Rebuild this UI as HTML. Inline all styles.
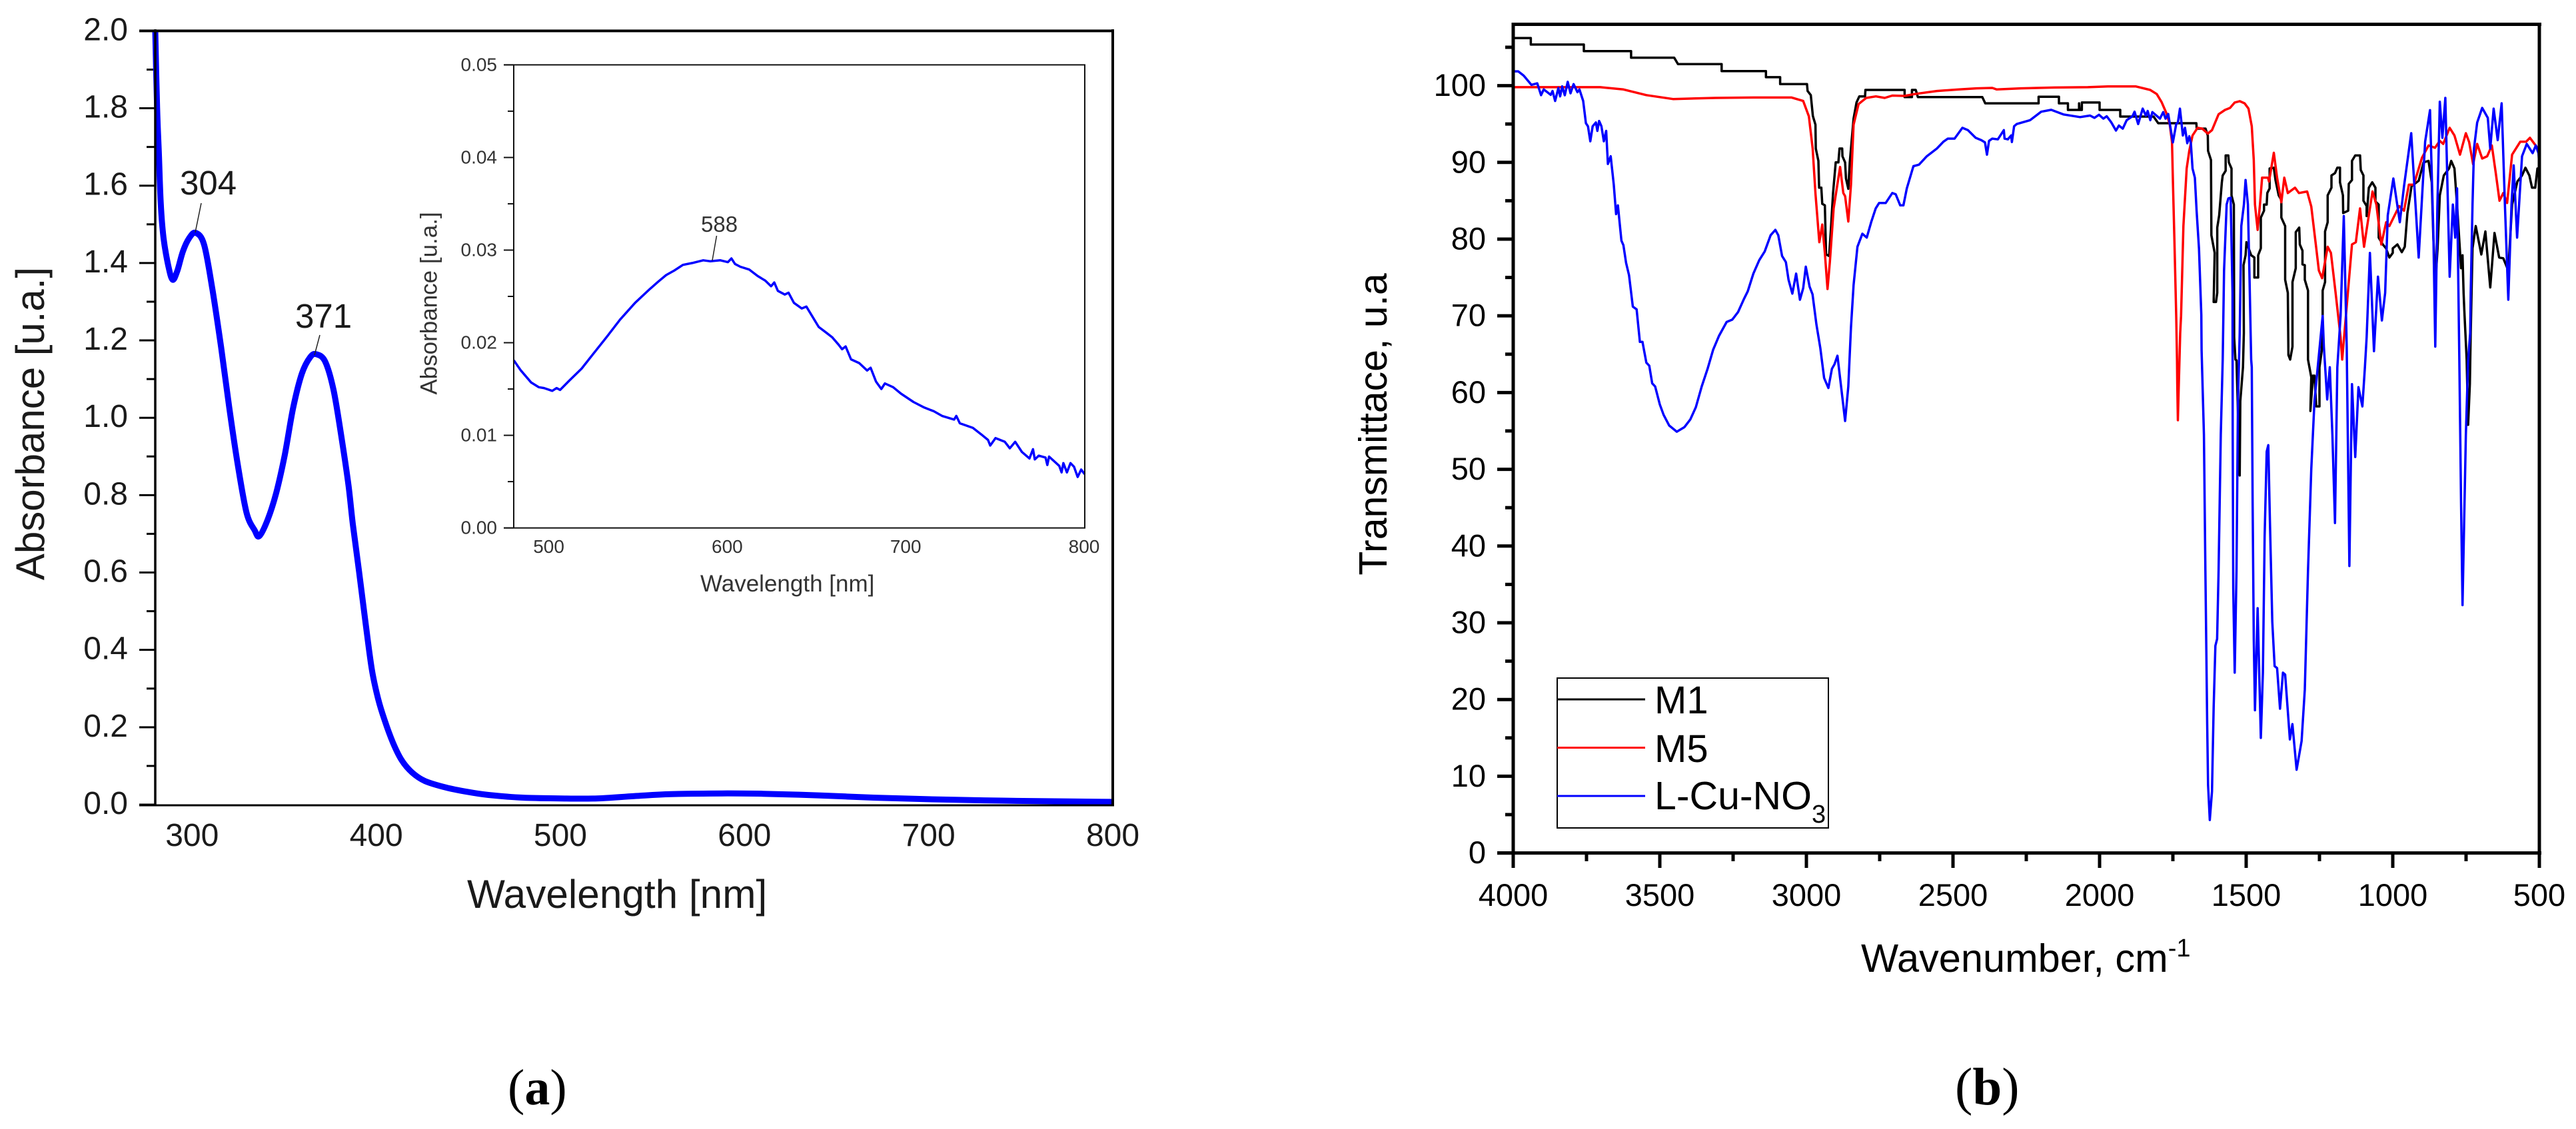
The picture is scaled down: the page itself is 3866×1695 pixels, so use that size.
<!DOCTYPE html>
<html lang="en">
<head>
<meta charset="utf-8">
<title>Absorbance and transmittance spectra</title>
<style>
html,body{margin:0;padding:0;background:#fff;width:3866px;height:1695px;overflow:hidden}
svg{display:block}
text{font-family:"Liberation Sans",Arial,sans-serif}
</style>
</head>
<body>
<svg id="figure" xmlns="http://www.w3.org/2000/svg" width="3866" height="1695" viewBox="0 0 3866 1695">
  <rect x="0" y="0" width="3866" height="1695" fill="#fff"/>
  <g id="panelA"></g>
  <g id="panelInset"></g>
  <g id="panelB"></g>

  <text x="701" y="1363" font-size="60.3" fill="#1a1a1a">Wavelength [nm]</text>
  <text transform="translate(66,636) rotate(-90)" text-anchor="middle" font-size="60" fill="#1a1a1a">Absorbance [u.a.]</text>
  <text x="270" y="292" font-size="51" fill="#1a1a1a">304</text>
  <line x1="302" y1="305" x2="293" y2="349" stroke="#222" stroke-width="1.5"/>
  <text x="443" y="492" font-size="51" fill="#1a1a1a">371</text>
  <line x1="480" y1="503" x2="472" y2="533" stroke="#222" stroke-width="1.5"/>

  <text x="1051" y="888" font-size="35" fill="#333">Wavelength [nm]</text>
  <text transform="translate(655.5,455.5) rotate(-90)" text-anchor="middle" font-size="35" fill="#333">Absorbance [u.a.]</text>
  <text x="1052" y="348" font-size="33" fill="#333">588</text>
  <line x1="1075.5" y1="354" x2="1069" y2="391" stroke="#222" stroke-width="1.5"/>

  <text x="2793" y="1459" font-size="59.5" fill="#000">Wavenumber, cm<tspan font-size="38" dy="-23">-1</tspan></text>
  <text transform="translate(2081,637) rotate(-90)" text-anchor="middle" font-size="59" fill="#000">Transmittace, u.a</text>

  <g>
    <rect x="2337" y="1018" width="407" height="225" fill="#fff" stroke="#000" stroke-width="2"/>
    <line x1="2337" y1="1050" x2="2469" y2="1050" stroke="#000" stroke-width="3"/>
    <text x="2483" y="1071" font-size="58" fill="#000">M1</text>
    <line x1="2337" y1="1122.5" x2="2469" y2="1122.5" stroke="#f00" stroke-width="3"/>
    <text x="2483" y="1144" font-size="58" fill="#000">M5</text>
    <line x1="2337" y1="1195" x2="2469" y2="1195" stroke="#00f" stroke-width="3"/>
    <text x="2483" y="1215" font-size="59" fill="#000">L-Cu-NO<tspan font-size="38" dy="20">3</tspan></text>
  </g>

  <text x="762" y="1658" style='font-family:"Liberation Serif",serif' font-size="76" fill="#000">(<tspan font-weight="bold">a</tspan>)</text>
  <text x="2934" y="1658" style='font-family:"Liberation Serif",serif' font-size="79" fill="#000">(<tspan font-weight="bold">b</tspan>)</text>
</svg>

<script>
/* ---------- Panel (a): main absorbance spectrum: [wavelength nm, absorbance] ---------- */
const absorbanceTickLabels = ["0.0","0.2","0.4","0.6","0.8","1.0","1.2","1.4","1.6","1.8","2.0"];
const absorbanceTickValues = [0,0.2,0.4,0.6,0.8,1.0,1.2,1.4,1.6,1.8,2.0];
const absorbanceMinorTicks = [0.1,0.3,0.5,0.7,0.9,1.1,1.3,1.5,1.7,1.9];
const wavelengthTickValues = [300,400,500,600,700,800];
const absorbanceSpectrum = [
[280,2.0],[281,1.8],[282,1.68],[283,1.553],[284.5,1.465],[287,1.395],[289.4,1.357],[292,1.38],[295,1.43],[298.5,1.465],[302,1.478],
[306.5,1.448],[311,1.333],[315.7,1.184],[320.2,1.026],[324.9,0.876],[329.6,0.754],[334,0.709],[336.5,0.694],[341,0.736],[345.7,0.806],
[350.3,0.903],[354.9,1.026],[359.6,1.114],[364.2,1.157],[367.6,1.164],[372.3,1.145],[376.9,1.07],[381.5,0.938],[385,0.823],[387.3,0.725],
[390.7,0.602],[394.2,0.47],[397.6,0.35],[401,0.274],[404.5,0.219],[409.2,0.159],[413.8,0.115],[419.5,0.083],[426.5,0.061],[438,0.044],
[449.5,0.033],[461,0.025],[479.5,0.018],[500,0.016],[520,0.016],[540,0.022],[560,0.027],[588,0.029],[610,0.028],[640,0.024],[670,0.018],
[700,0.014],[730,0.011],[760,0.009],[800,0.007]
];

/* ---------- Panel (a) inset: [wavelength nm, absorbance] ---------- */
const insetTickLabels = ["0.00","0.01","0.02","0.03","0.04","0.05"];
const insetTickValues = [0,0.01,0.02,0.03,0.04,0.05];
const insetMinorTicks = [0.005,0.015,0.025,0.035,0.045];
const insetWavelengthTicks = [500,600,700,800];
const insetSpectrum = [
[480,0.0181],[484,0.0170],[489.8,0.0157],[494,0.0152],[497,0.0151],[501.6,0.0148],[504,0.0151],[506,0.0149],[511.1,0.0159],[518,0.0172],
[525.4,0.019],[532,0.0206],[539.6,0.0225],[548,0.0243],[556.3,0.0258],[561,0.0266],[565.4,0.0273],[570,0.0278],[574.8,0.0284],[580,0.0286],
[586.2,0.0289],[590,0.0288],[595.8,0.0289],[600,0.0287],[602,0.0291],[604,0.0285],[607,0.0282],[612,0.0279],[616.7,0.0272],[621,0.0267],
[624.2,0.0261],[626,0.0265],[628,0.0256],[631.9,0.0252],[634,0.0254],[637,0.0243],[641.4,0.0237],[644,0.0239],[650.9,0.0217],[655,0.0211],
[658.4,0.0206],[662,0.0198],[664,0.0193],[666,0.0196],[669,0.0182],[673.6,0.0178],[678,0.0170],[680,0.0173],[683,0.0158],[686,0.0150],
[688,0.0156],[692.6,0.0152],[697,0.0145],[704,0.0136],[710,0.0130],[715.4,0.0126],[720,0.0121],[726.8,0.0117],[728,0.0121],[730,0.0113],
[737.3,0.0108],[742,0.0101],[745.8,0.0095],[747,0.0089],[750,0.0097],[755.2,0.0093],[758,0.0086],[761,0.0093],[764.8,0.0082],[769,0.0075],
[771,0.0085],[772,0.0074],[774.2,0.0078],[778,0.0076],[779,0.0068],[780,0.0077],[785.7,0.0067],[787,0.0060],[788,0.0070],[790,0.0060],
[792,0.0070],[794,0.0066],[796,0.0055],[798,0.0063],[800,0.0058]
];

/* ---------- Panel (b): [wavenumber cm-1, transmittance] ---------- */
const transmittanceTickValues = [0,10,20,30,40,50,60,70,80,90,100];
const transmittanceMinorTicks = [5,15,25,35,45,55,65,75,85,95,105];
const wavenumberTickValues = [4000,3500,3000,2500,2000,1500,1000,500];
const wavenumberMinorTicks = [3750,3250,2750,2250,1750,1250,750];

const m1Spectrum = [
[4000,106.2],[3940,106.2],[3940,105.35],[3759,105.35],[3759,104.5],[3598,104.5],[3598,103.64],[3451,103.64],[3438,102.8],[3289,102.8],[3289,101.9],[3138,101.9],
[3138,101.1],[3089.5,101.1],[3089.5,100.2],[2998,100.2],[2996,99.3],[2985,98.76],[2978,96.05],[2969,94.9],[2968,91.8],[2959,90.2],[2956.5,86.7],[2949,86.7],[2946,84.6],[2937,84.4],
[2933,78],[2922.5,77.8],[2917,80.9],[2909,86],[2900,90],[2891,90],[2887,91.8],[2878,91.8],[2877,90.8],[2868,90],[2865,87.9],[2857,86.55],[2852,90],[2839,95.7],[2829,97.8],[2819.5,98.6],
[2800,98.6],[2798.6,99.44],[2665,99.44],[2665,98.5],[2640,98.5],[2640,99.44],[2627,99.44],[2619.7,98.5],[2400,98.5],[2390,97.7],[2208,97.7],[2208,98.55],[2138.6,98.55],[2138.6,97.7],
[2108,97.7],[2108,96.84],[2070,96.84],[2070,97.7],[2068,96.84],[2060.5,96.84],[2060.5,97.8],[2000,97.8],[2000,96.84],[1929.5,96.84],[1929.5,95.97],[1816,95.97],[1800,95.1],[1670,95.1],
[1668.7,94.4],[1638.7,94.4],[1631,93.5],[1630,91.5],[1620,90.3],[1618.7,80.5],[1607.6,78.2],[1611,71.8],[1603,71.8],[1598.7,73],[1598.7,81.5],[1592,83.1],[1583,87.4],[1580,88.3],[1570,88.9],
[1570,90.9],[1561,90.9],[1559,90],[1550,89.2],[1550,85.7],[1542,84.5],[1541,67.2],[1536.6,64.3],[1533,64.2],[1522,49.2],[1520,58.9],[1511,63.3],[1508,67.76],[1509,76.6],[1502,77.9],[1499,79.6],
[1483,77.9],[1472,77.6],[1472,75],[1459,75],[1459,77.9],[1450,78.8],[1450,82.8],[1439,83.7],[1439,84.5],[1430,84.5],[1428,86],[1420,86.6],[1420,89.2],[1405.6,89.3],[1400,87.7],[1389,85.7],
[1380,85.1],[1380,82.8],[1367,81.7],[1367,74.7],[1358,73],[1356,64.9],[1350,64.3],[1342,66],[1342,74.4],[1331,76.2],[1331,80.9],[1319,81.5],[1317,79.3],[1308,78.5],[1308,76.7],[1300,76.6],
[1300,74.7],[1289,73.3],[1289,64.3],[1278,62],[1281,57.6],[1272,62.2],[1267,62.2],[1261,58.2],[1250,58.2],[1250,63.3],[1242,65.5],[1239,67.76],[1239,73.3],[1231,74.4],[1231,81],[1222,82.2],
[1222,85.7],[1209,86.7],[1209,88.3],[1197,88.6],[1189,89.3],[1180,89.3],[1180,87.4],[1170,85.7],[1169,83.4],[1152,83.7],[1150,87.2],[1139,87.7],[1139,90.2],[1128,90.9],[1111.5,90.9],[1109,89],
[1100,88.3],[1100,85],[1089,84.3],[1089,83],[1081.5,86.7],[1070,87.4],[1059,86.7],[1059,84.9],[1048,84.5],[1048,80.2],[1034,79.3],[1023,78.8],[1011.5,77.6],[1000,78.2],[1000,78.8],[984,79.3],
[969,78.3],[959,79],[950,83.4],[936,86.9],[911.6,87.6],[895,90],[878,90.2],[867,87.4],[861.6,80.2],[854,74.7],[847,78.8],[839.5,85.7],[826,88.3],[808,89.2],[800.6,90.2],[789.5,89.2],[778.4,83.1],
[767,76.2],[762,77.9],[758.5,73],[756,70.7],[748,64.3],[743,55.8],[737,61.1],[734,67.76],[728,78.8],[717,81.7],[698,78],[684,81],[667.5,73.7],[653,80.8],[637,77.6],[623,77.5],[606,75.9],[593,84.5],
[575,87.5],[559,88.3],[547.6,89.3],[534,88.3],[525,86.7],[514,86.7],[506.5,89.2],[500,89.2]
];

const m5Spectrum = [
[4000,99.8],[3703,99.8],[3624,99.5],[3546,98.76],[3455,98.25],[3311,98.4],[3181,98.45],[3050.5,98.45],[3011,98],[2991.6,96],[2978.6,91.8],[2969,85.95],[2956,79.6],[2946,81.9],[2937,78.2],[2928,73.5],
[2920,77],[2907,84],[2885,89.4],[2874,86],[2868,85.6],[2857,82.3],[2848,87.1],[2839,94.9],[2822,97.6],[2796,98.4],[2763,98.6],[2733,98.4],[2707,98.7],[2665,98.66],[2631,98.9],[2555,99.3],[2479.5,99.5],
[2419,99.65],[2366,99.7],[2350.7,99.5],[2267.4,99.65],[2153.7,99.75],[2040,99.8],[1972,99.9],[1877,99.9],[1827.4,99.44],[1805,98.9],[1788.5,97.85],[1772,96.4],[1761,95],[1753,92.65],[1749.7,87.4],
[1744,78.8],[1738.6,70],[1736,64.3],[1735,61.1],[1733,56.4],[1729.7,61.1],[1725,67.76],[1722,70],[1714,81.7],[1703,89.2],[1694,91.5],[1683,93.5],[1666,94.5],[1650,94.4],[1631,93.75],[1616.5,94.2],
[1594,96.26],[1572,96.84],[1555,97.1],[1539,97.8],[1522,97.97],[1505.5,97.7],[1492,97],[1481,94.7],[1474,90.3],[1470,84.5],[1461,81.2],[1453,84.5],[1445.6,88],[1425.6,88],[1422,87.5],[1405.6,91.25],
[1394.5,88],[1380,84.8],[1370,88],[1358,86],[1333.5,86.7],[1320,86],[1292,86.2],[1278,84.25],[1261,78.8],[1252,75.9],[1241,74.9],[1222,79],[1211,78.2],[1195,73],[1178,67.2],[1172.5,64.3],[1150,74.4],
[1139,79.3],[1126,79.6],[1111.5,84],[1098,79],[1084,82.5],[1069,86.2],[1056,84.5],[1039,79.3],[1022.6,82.2],[1011.5,81.7],[978,84.3],[961.6,83.7],[945,87.1],[928,87.1],[900.5,90.6],[878,92.2],[856,91.9],
[839.5,92.8],[828,92.4],[806,94.5],[789.5,93.5],[770.7,91],[750.7,93.8],[739.6,92.65],[726,89.75],[712,92.4],[695,90.5],[678,90.8],[662,92.2],[648.6,88.6],[636,85],[623,86],[610,84.7],[593,91],[565,92.7],
[545,92.7],[532,93.2],[501,91.6]
];

const lCuNo3Spectrum = [
[4000,101.86],[3983,101.86],[3964,101.3],[3938,100.1],[3918,100.3],[3905,98.76],[3896,99.5],[3872,98.8],[3866,99.3],[3857,98],[3846,99.7],[3840,98.6],[3833,99.9],[3824,98.75],[3814,100.5],[3804.5,99],
[3794,100.2],[3781,99.15],[3774,99.5],[3761.4,98],[3752,95.1],[3745,94.7],[3737,92.75],[3729,94.7],[3718,95.2],[3713,94.1],[3707,95.4],[3699,94.7],[3691,92.75],[3683,94.1],[3677,89.8],[3667.5,90.8],
[3657,87.1],[3649,83.25],[3643,84.4],[3631,79.8],[3624,79.2],[3615,76.9],[3605,75.3],[3592,71.2],[3579,70.85],[3568,66.6],[3559,66.6],[3546,63.9],[3536,63.5],[3526,61.2],[3516,60.8],[3500,58.45],[3487,57.1],
[3468,55.7],[3442,54.9],[3416,55.5],[3396,56.5],[3377,58.1],[3357,60.8],[3337,63.1],[3318,65.6],[3298,67.4],[3272,69.2],[3253,69.5],[3233,70.5],[3213,72.2],[3200,73.2],[3181,75.5],[3161,77.25],[3142,78.4],
[3122,80.5],[3106,81.2],[3096,80.5],[3083,77.8],[3070,77],[3061,74.7],[3048,72.9],[3035,75.5],[3022,72.1],[3011,73.6],[3002,76.4],[2989,73.8],[2979,72.8],[2966,68.9],[2952.5,65.8],[2939.5,61.9],[2925,60.6],
[2913,63.1],[2904,63.7],[2894,64.8],[2883,61.2],[2868,56.3],[2857,60.8],[2848,68.5],[2839,74],[2826,79],[2809,80.7],[2794,80.2],[2779,82.2],[2763.6,84],[2752,84.7],[2729.5,84.7],[2707,86],[2695.4,85.85],
[2680,84.4],[2669,84.4],[2657.5,86.6],[2635,89.5],[2616,89.7],[2589.4,90.8],[2555,91.8],[2532.5,92.7],[2517.4,93.1],[2494.6,93.1],[2468,94.5],[2449,94.2],[2422.7,93.2],[2403.7,92.9],[2391,92.6],[2384,91],
[2377,92.8],[2366,93.1],[2347,93],[2326.5,94.2],[2324,93.1],[2313,93],[2301.5,93.5],[2299,92.65],[2291.6,94.7],[2282.5,95],[2237,95.5],[2199,96.6],[2165,96.85],[2123.4,96.25],[2066.6,95.9],[2032.5,96.1],
[2017.4,95.8],[2002,96.2],[1987,95.7],[1975.7,96],[1960.6,95.25],[1944,94.15],[1934,94.8],[1921,94.4],[1907.5,95.5],[1888,96],[1880.7,96.6],[1868.5,95],[1853,97],[1842,96.1],[1836,96.7],[1827,95.5],[1820,96.55],
[1794,95.7],[1783,96.55],[1775,95.7],[1766,96.3],[1750,92.6],[1738.6,95],[1733,95.2],[1726,97],[1716,93.5],[1708.6,94.5],[1701,92.5],[1694,93.4],[1688.6,92.5],[1683,89.2],[1675,88],[1669,83.7],[1661,78.75],
[1653,70.1],[1652,65.5],[1644,54.5],[1639,36.8],[1633,16.8],[1630,8.9],[1624,4.3],[1616.5,8],[1611,19],[1605,27],[1599,27.9],[1594,36.8],[1586.5,54.5],[1580,64.3],[1575.4,75.9],[1566.5,84.5],[1561,85.3],[1553,85.4],
[1546.6,73],[1546,54.5],[1544,34.5],[1539,23.5],[1533,36.8],[1528,58.9],[1522,67.76],[1516.6,81.7],[1507.7,84.5],[1502,87.7],[1494,84.5],[1489,75.9],[1483,64.3],[1481,63.3],[1478,45.6],[1474,27.9],[1470,18.6],
[1461,31.9],[1455.5,23.5],[1450,15],[1443,23.5],[1437,41.2],[1430,52.3],[1424.5,53.15],[1419,43.4],[1411,30.1],[1403,24.35],[1394.5,24.1],[1384.5,18.8],[1374.5,23.5],[1367,23.25],[1351,14.8],[1342.3,16.8],[1328,10.85],
[1311,14.6],[1300,21.3],[1289,36.8],[1278,50],[1267,58.9],[1239,70],[1235,66],[1223.6,59.1],[1214.7,63.3],[1206,54.5],[1197,43],[1189,63.3],[1178,70],[1167,83],[1157,66],[1148,37.4],[1139,61.1],[1128,51.6],[1117,60.7],
[1103.7,58.2],[1095,63.3],[1089,67.2],[1078,78.2],[1064,65.4],[1050.4,75.1],[1037,69.4],[1026,73],[1017,83.1],[998,87.9],[976,82.2],[961.6,86.9],[937,93.8],[911.6,77.6],[889.5,92.7],[873,96.8],[861.7,80.9],[855,66],
[848,84],[839.5,97.9],[830.6,93.2],[820.6,98.4],[806,75.1],[795,84.5],[787,80.2],[780.7,86.6],[773,64.3],[767,45.6],[762,32.3],[750.7,54.5],[743,64.2],[736,67.76],[734,73],[728,84.5],[723,91.8],[712,95.2],[695,97.1],
[676,95.8],[667.5,91.8],[656,97],[642,92.9],[628.6,97.7],[617.5,84.5],[606,72.1],[595,84.5],[587.5,89.6],[576,80.2],[559,90.8],[543,92.4],[523,91.2],[512,92.2],[503,91.2],[500,89.5]
];

/* ---------- Axis functions ---------- */
function linear(d0, d1, r0, r1) {
  return function (v) { return r0 + (v - d0) * (r1 - r0) / (d1 - d0); };
}
const xA = linear(280, 800, 233, 1670);
const yA = linear(0, 2, 1208, 46.4);
const xI = linear(480, 800, 771, 1628);
const yI = linear(0, 0.05, 792.6, 97.4);
const xB = linear(4000, 500, 2271, 3811);
const yB = linear(0, 108, 1280.6, 36.4);

const NS = "http://www.w3.org/2000/svg";
function make(tag, parent) {
  const el = document.createElementNS(NS, tag);
  parent.appendChild(el);
  return el;
}
function setLine(el, x1, y1, x2, y2, color, width) {
  el.setAttribute("x1", x1);
  el.setAttribute("y1", y1);
  el.setAttribute("x2", x2);
  el.setAttribute("y2", y2);
  el.setAttribute("stroke", color);
  el.setAttribute("stroke-width", width);
}
function setText(el, x, y, size, color, anchor, str) {
  el.setAttribute("x", x);
  el.setAttribute("y", y);
  el.setAttribute("font-size", size);
  el.setAttribute("fill", color);
  el.setAttribute("text-anchor", anchor);
  el.textContent = str;
}
function pathFrom(data, xf, yf) {
  return data.map(function (p, i) {
    return (i ? "L" : "M") + xf(p[0]).toFixed(1) + " " + yf(p[1]).toFixed(1);
  }).join("");
}
/* Catmull-Rom smoothing for the broad UV-vis band */
function smoothPathFrom(data, xf, yf) {
  const pts = data.map(function (p) { return [xf(p[0]), yf(p[1])]; });
  let d = "M" + pts[0][0].toFixed(1) + " " + pts[0][1].toFixed(1);
  for (let i = 0; i < pts.length - 1; i++) {
    const p0 = pts[Math.max(0, i - 1)];
    const p1 = pts[i];
    const p2 = pts[i + 1];
    const p3 = pts[Math.min(pts.length - 1, i + 2)];
    const c1x = p1[0] + (p2[0] - p0[0]) / 6;
    const c1y = p1[1] + (p2[1] - p0[1]) / 6;
    const c2x = p2[0] - (p3[0] - p1[0]) / 6;
    const c2y = p2[1] - (p3[1] - p1[1]) / 6;
    d += "C" + c1x.toFixed(1) + " " + c1y.toFixed(1) + " " + c2x.toFixed(1) + " " + c2y.toFixed(1) + " " + p2[0].toFixed(1) + " " + p2[1].toFixed(1);
  }
  return d;
}
function setCurve(el, d, color, width) {
  el.setAttribute("d", d);
  el.setAttribute("fill", "none");
  el.setAttribute("stroke", color);
  el.setAttribute("stroke-width", width);
  el.setAttribute("stroke-linejoin", "round");
  el.setAttribute("stroke-linecap", "butt");
}

/* ---------- Panel (a) ---------- */
const gA = document.getElementById("panelA");
absorbanceTickValues.forEach(function (v, i) {
  const t = make("line", gA);
  
  
  setLine(t, 209, yA(v), 233, yA(v), "#000", 3);
  const lab = make("text", gA);
  
  
  setText(lab, 192, yA(v) + 14, 48, "#1a1a1a", "end", absorbanceTickLabels[i]);
});
absorbanceMinorTicks.forEach(function (v) {
  const t = make("line", gA);
  
  
  setLine(t, 220, yA(v), 233, yA(v), "#000", 3);
});
wavelengthTickValues.forEach(function (v) {
  const lab = make("text", gA);
  
  
  setText(lab, xA(v), 1270, 48, "#1a1a1a", "middle", String(v));
});
const curveA = make("path", gA);


setCurve(curveA, smoothPathFrom(absorbanceSpectrum, xA, yA), "#00f", 9);
const frameL = make("line", gA);


setLine(frameL, 233, 44, 233, 1210, "#000", 3.5);
const frameT = make("line", gA);


setLine(frameT, 209, 46.4, 1672, 46.4, "#000", 4);
const frameR = make("line", gA);


setLine(frameR, 1670, 44, 1670, 1210, "#000", 4);
const frameB = make("line", gA);


setLine(frameB, 209, 1209, 1672, 1209, "#000", 3);

/* ---------- Inset ---------- */
const gI = document.getElementById("panelInset");
insetTickValues.forEach(function (v, i) {
  const t = make("line", gI);
  
  
  setLine(t, 756, yI(v), 771, yI(v), "#111", 2);
  const lab = make("text", gI);
  
  
  setText(lab, 746, yI(v) + 9, 28, "#333", "end", insetTickLabels[i]);
});
insetMinorTicks.forEach(function (v) {
  const t = make("line", gI);
  
  
  setLine(t, 762, yI(v), 771, yI(v), "#111", 2);
});
insetWavelengthTicks.forEach(function (v) {
  const lab = make("text", gI);
  
  
  setText(lab, xI(v) - 1, 830, 28, "#333", "middle", String(v));
});
const curveI = make("path", gI);


setCurve(curveI, pathFrom(insetSpectrum, xI, yI), "#00f", 3.5);
const insetFrameT = make("line", gI);


setLine(insetFrameT, 756, 97.4, 1629, 97.4, "#111", 2);
const insetFrameB = make("line", gI);


setLine(insetFrameB, 756, 792.6, 1629, 792.6, "#111", 2);
const insetFrameL = make("line", gI);


setLine(insetFrameL, 771, 97, 771, 793, "#111", 2);
const insetFrameR = make("line", gI);


setLine(insetFrameR, 1628, 97, 1628, 793, "#111", 2);

/* ---------- Panel (b) ---------- */
const gB = document.getElementById("panelB");
transmittanceTickValues.forEach(function (v) {
  const t = make("line", gB);
  
  
  setLine(t, 2247, yB(v), 2271, yB(v), "#000", 5);
  const lab = make("text", gB);
  
  
  setText(lab, 2230, yB(v) + 15.5, 47, "#000", "end", String(v));
});
transmittanceMinorTicks.forEach(function (v) {
  const t = make("line", gB);
  
  
  setLine(t, 2259, yB(v), 2271, yB(v), "#000", 5);
});
wavenumberTickValues.forEach(function (v) {
  const t = make("line", gB);
  
  
  setLine(t, xB(v), 1280, xB(v), 1303, "#000", 5);
  const lab = make("text", gB);
  
  
  setText(lab, xB(v), 1360, 47, "#000", "middle", String(v));
});
wavenumberMinorTicks.forEach(function (v) {
  const t = make("line", gB);
  
  
  setLine(t, xB(v), 1280, xB(v), 1293, "#000", 5);
});
const curveM1 = make("path", gB);


setCurve(curveM1, pathFrom(m1Spectrum, xB, yB), "#000", 3.5);
const curveM5 = make("path", gB);


setCurve(curveM5, pathFrom(m5Spectrum, xB, yB), "#f00", 3.5);
const curveL = make("path", gB);


setCurve(curveL, pathFrom(lCuNo3Spectrum, xB, yB), "#00f", 3.5);
const bLeft = make("line", gB);


setLine(bLeft, 2271, 34, 2271, 1283, "#000", 5);
const bTop = make("line", gB);


setLine(bTop, 2269, 36.5, 3814, 36.5, "#000", 5);
const bRight = make("line", gB);


setLine(bRight, 3811, 34, 3811, 1283, "#000", 5);
const bBottom = make("line", gB);


setLine(bBottom, 2247, 1280.6, 3814, 1280.6, "#000", 5);
</script>
</body>
</html>
